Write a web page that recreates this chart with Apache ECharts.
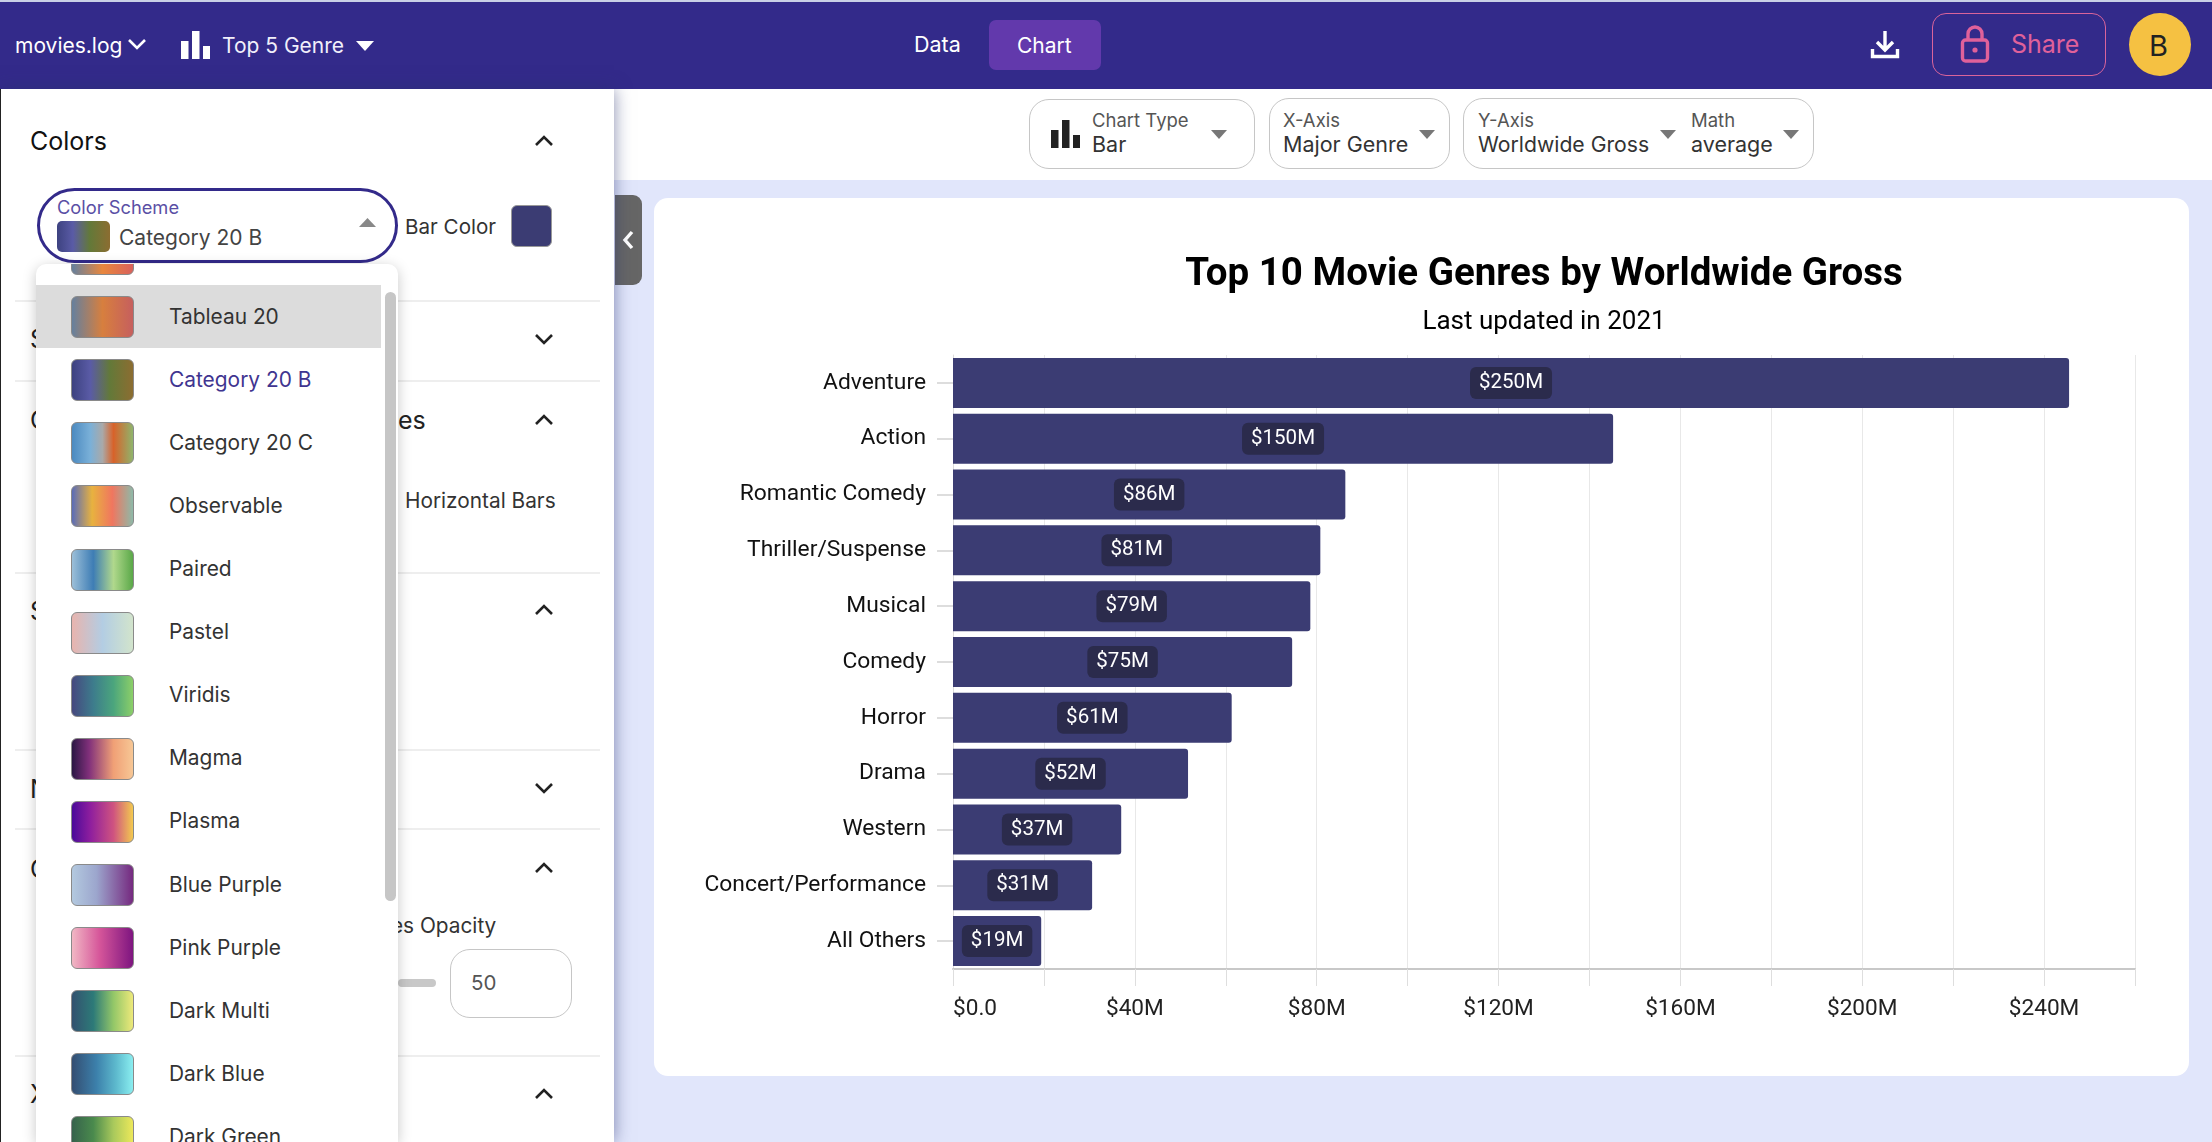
<!DOCTYPE html>
<html><head><meta charset="utf-8">
<script src="https://cdn.jsdelivr.net/npm/echarts@6/dist/echarts.min.js"></script>
<style>
html,body{margin:0;padding:0;width:2212px;height:1142px;overflow:hidden;background:#e1e6fb;font-family:Inter,"Noto Sans",sans-serif;}
.a{position:absolute;white-space:nowrap;line-height:1;}
.box{position:absolute;box-sizing:border-box;}
#chart{position:absolute;left:654px;top:198px;width:1535px;height:878px;background:#fff;border-radius:14px;}
svg{position:absolute;display:block;overflow:visible;}
</style></head><body>
<div id="root"></div>
<div id="chart"></div>
<script>
const genres = ['Adventure','Action','Romantic Comedy','Thriller/Suspense','Musical','Comedy','Horror','Drama','Western','Concert/Performance','All Others'];
const grossMillions = [245.5,145.2,86.3,80.8,78.6,74.6,61.3,51.7,37.0,30.6,19.4];
const barLabels = ['$250M','$150M','$86M','$81M','$79M','$75M','$61M','$52M','$37M','$31M','$19M'];
const xTickLabels = {0:'$0.0',40:'$40M',80:'$80M',120:'$120M',160:'$160M',200:'$200M',240:'$240M'};
const schemeNames = ['','Tableau 20','Category 20 B','Category 20 C','Observable','Paired','Pastel','Viridis','Magma','Plasma','Blue Purple','Pink Purple','Dark Multi','Dark Blue','Dark Green'];
const schemeStops = [
 '#65809e,#e8873e 50%,#d9615c','#65809e,#d77f3e 50%,#c65f5e','#3d4280,#5a5ba6 30%,#637939 62%,#8c6d31',
 '#4c8ac0,#7ab0d8 30%,#a9a9a9 50%,#d8622a 68%,#8fb46c','#5a6cb8,#e8b23f 33%,#f0765f 66%,#8eb9a8',
 '#9cbfd8,#3e7db5 35%,#b0d88c 68%,#5aa848','#e8b4ae,#b3cde3 50%,#d2e4cc','#46487f,#3d7c8c 35%,#4ba57d 68%,#8ccf68',
 '#2b1744,#81307b 28%,#f0a076 68%,#f7c795','#4a0a9a,#8e1e9e 30%,#cf5380 68%,#f3c94f','#b3c9df,#9ca6cd 40%,#75297f',
 '#f1b7c4,#d6569a 45%,#7e1580','#33516f,#2d7a78 35%,#93c768 68%,#ede97a','#344e72,#3c80ab 40%,#5db9cd 72%,#8aeef0',
 '#36624c,#4a8a4d 35%,#a9c95c 68%,#ece85a'];

const root = document.getElementById('root');
function box(x,y,w,h,css,parent){const d=document.createElement('div');d.className='box';d.style.cssText=`left:${x}px;top:${y}px;width:${w}px;height:${h}px;`+(css||'');(parent||root).appendChild(d);return d;}
function txt(s,x,cy,size,color,css,parent){const d=document.createElement('div');d.className='a';d.textContent=s;d.style.cssText=`left:${x}px;top:${cy-size/2}px;font-size:${size}px;color:${color};`+(css||'');(parent||root).appendChild(d);return d;}
function svg(inner,x,y,w,h,parent){const wrap=document.createElementNS('http://www.w3.org/2000/svg','svg');wrap.setAttribute('width',w);wrap.setAttribute('height',h);wrap.setAttribute('viewBox',`0 0 ${w} ${h}`);wrap.style.left=x+'px';wrap.style.top=y+'px';wrap.innerHTML=inner;(parent||root).appendChild(wrap);return wrap;}
const chevUp=(cx,cy,c)=>svg(`<path d="M1 10 L9 2 L17 10" fill="none" stroke="${c||'#222'}" stroke-width="2.6"/>`,cx-9,cy-6,18,12);
const chevDown=(cx,cy,c)=>svg(`<path d="M1 2 L9 10 L17 2" fill="none" stroke="${c||'#222'}" stroke-width="2.6"/>`,cx-9,cy-6,18,12);
const caret=(x,y,w,h,c,up)=>svg(up?`<path d="M0 ${h} L${w/2} 0 L${w} ${h} Z" fill="${c}"/>`:`<path d="M0 0 L${w/2} ${h} L${w} 0 Z" fill="${c}"/>`,x,y,w,h);
const barIcon=(x,y,c)=>svg(`<rect x="0" y="10" width="7.5" height="18" fill="${c}"/><rect x="11" y="0" width="7.5" height="28" fill="${c}"/><rect x="22" y="15" width="7" height="13" fill="${c}"/>`,x,y,29,28);

// page layers
box(0,89,2212,91,'background:#fff;');
box(0,0,2212,89,'background:#332a8a;border-top:2px solid #c9cfe6;');

// header
txt('movies.log',15,45,21,'#fff');
chevDown(137,44,'#fff');
barIcon(181,31,'#fff');
txt('Top 5 Genre',222,45,21,'#f1effa');
caret(356,41,18,10,'#fff');
txt('Data',914,45,21.5,'#fff');
box(989,20,112,50,'background:#6239ac;border-radius:7px;');
txt('Chart',1017,45,21,'#fff');
svg(`<path d="M14 1 V19 M6 12 L14 20 L22 12" fill="none" stroke="#fff" stroke-width="3.4"/><path d="M1.5 19 V26.5 H26.5 V19" fill="none" stroke="#fff" stroke-width="3.4"/>`,1871,30,28,28);
box(1932,13,174,63,'border:1.5px solid #d9649b;border-radius:14px;');
svg(`<path d="M7 15 V9 A7 7 0 0 1 21 9 V15" fill="none" stroke="#e0619a" stroke-width="3.4"/><rect x="1.5" y="15" width="25" height="21" rx="3" fill="none" stroke="#e0619a" stroke-width="3.4"/><circle cx="14" cy="25" r="2.6" fill="#e0619a"/>`,1961,25,28,38);
txt('Share',2011,44,25,'#e0619a');
box(2129,13,62,63,'background:#f5c142;border-radius:50%;');
txt('B',2149,45,29,'#222');

// toolbar pills
const pill='border:1.5px solid #c6c6c6;border-radius:20px;background:#fff;';
box(1029,99,226,70,pill); box(1269,98,181,71,pill); box(1463,98,351,71,pill);
barIcon(1051,120,'#222');
txt('Chart Type',1092,120,18.5,'#555');
txt('Bar',1092,145,21.5,'#333');
caret(1211,130,16,9,'#777');
txt('X-Axis',1283,120,18.5,'#555');
txt('Major Genre',1283,145,21.5,'#333');
caret(1419,130,16,9,'#777');
txt('Y-Axis',1478,120,18.5,'#555');
txt('Worldwide Gross',1478,145,21.2,'#333');
caret(1660,130,16,9,'#777');
txt('Math',1691,120,18.5,'#555');
txt('average',1691,145,21.5,'#333');
caret(1783,130,16,9,'#777');

// collapse tab
box(615,195,27,90,'background:#666;border-radius:0 9px 9px 0;');
svg(`<path d="M10 1 L3 9 L10 17" fill="none" stroke="#fff" stroke-width="3.4"/>`,622,231,12,18);

// left panel
const panel=box(0,89,614,1053,'background:#fff;border-left:1px solid #222;box-shadow:0 0 16px rgba(40,50,110,.55);');
const divs=[300,380,572,749,828,1055];
divs.forEach(y=>box(15,y,585,2,'background:#eee;'));
txt('Colors',30,141,25,'#111');
chevUp(544,141);
txt('S',30,339,25,'#222'); chevDown(544,339);
txt('C',30,420,25,'#222'); txt('es',398,420,25,'#222'); chevUp(544,420);
txt('Horizontal Bars',405,501,20.8,'#333');
txt('S',30,611,25,'#222'); chevUp(544,610);
txt('N',30,789,25,'#222'); chevDown(544,788);
txt('C',30,869,25,'#222'); chevUp(544,868);
txt('es Opacity',391,926,20.8,'#333');
box(398,979,38,8,'background:#c8c8c8;border-radius:4px;');
box(450,949,122,69,'border:1.5px solid #c6c6c6;border-radius:20px;');
txt('50',471,983,20.5,'#555');
txt('X',30,1094,25,'#222'); chevUp(544,1094);

// color scheme select
box(37,188,361,75,'border:3px solid #332a8a;border-radius:38px;background:#fff;');
txt('Color Scheme',57,207,18.3,'#5a4fa5');
box(57,221,53,31,`border-radius:5px;background:linear-gradient(90deg,${schemeStops[2]});`);
txt('Category 20 B',119,237,21,'#444');
caret(359,218,17,9,'#888',true);
txt('Bar Color',405,227,20.6,'#333');
box(511,205,41,42,'background:#3b3c73;border-radius:6px;border:1px solid #999;');

// dropdown list
const list=box(36,264,362,878,'background:#fff;border-radius:10px 10px 0 0;overflow:hidden;box-shadow:0 3px 14px rgba(0,0,0,.22);');
const ITEM=63.1, FIRST=254-264;
box(0,21,345,63,'background:#dcdcdc;',list);
schemeNames.forEach((n,i)=>{
  const cy=FIRST+ITEM*i;
  box(35,cy-21,63,42,`border-radius:6px;border:1px solid #8a8a8a;background:linear-gradient(90deg,${schemeStops[i]});`,list);
  if(n) txt(n,133,cy,20.9,n==='Category 20 B'?'#3f3590':'#333','',list);
});
box(348.5,28,11,609,'background:#c6c6c6;border-radius:6px;',list);

// chart
const chart=echarts.init(document.getElementById('chart'),null,{renderer:'canvas'});
chart.setOption({
  animation:false,
  backgroundColor:'transparent',
  textStyle:{fontFamily:'Roboto'},
  title:[
    {text:'Top 10 Movie Genres by Worldwide Gross',left:885,top:53,textAlign:'center',textStyle:{fontFamily:'Roboto',fontWeight:700,fontSize:38.5,color:'#000'}},
    {text:'Last updated in 2021',left:885,top:106,textAlign:'center',textStyle:{fontFamily:'Roboto',fontWeight:400,fontSize:26,color:'#000'}}
  ],
  grid:{left:299,right:54,top:157,bottom:107,containLabel:false},
  xAxis:{type:'value',min:0,max:260,interval:20,
    axisLine:{show:true,onZero:false,lineStyle:{color:'#c8c8c8',width:2}},
    axisTick:{show:true,length:17,lineStyle:{color:'#dedede',width:1}},
    splitLine:{show:true,lineStyle:{color:'#e8e8e8',width:1}},
    axisLabel:{color:'#222',fontSize:22.6,margin:29,fontFamily:'Roboto',alignMinLabel:'left',formatter:v=>xTickLabels[v]||''}
  },
  yAxis:{type:'category',inverse:true,data:genres,
    axisLine:{show:true,lineStyle:{color:'#dcdcdc',width:1}},
    axisTick:{show:true,alignWithLabel:true,length:16,lineStyle:{color:'#ddd',width:2}},
    axisLabel:{color:'#111',fontSize:22.8,margin:27,fontFamily:'Roboto',padding:[2,0,0,0]}
  },
  series:[{type:'bar',data:grossMillions,barWidth:50,
    itemStyle:{color:'#3b3c73',borderRadius:[0,3,3,0]},
    label:{show:true,position:'inside',formatter:p=>barLabels[p.dataIndex],color:'#fff',fontFamily:'Roboto',fontSize:20.5,lineHeight:22,
      backgroundColor:'#2b2b4c',borderRadius:6,padding:[6,9,4,9]}
  }]
});
</script>
</body></html>
